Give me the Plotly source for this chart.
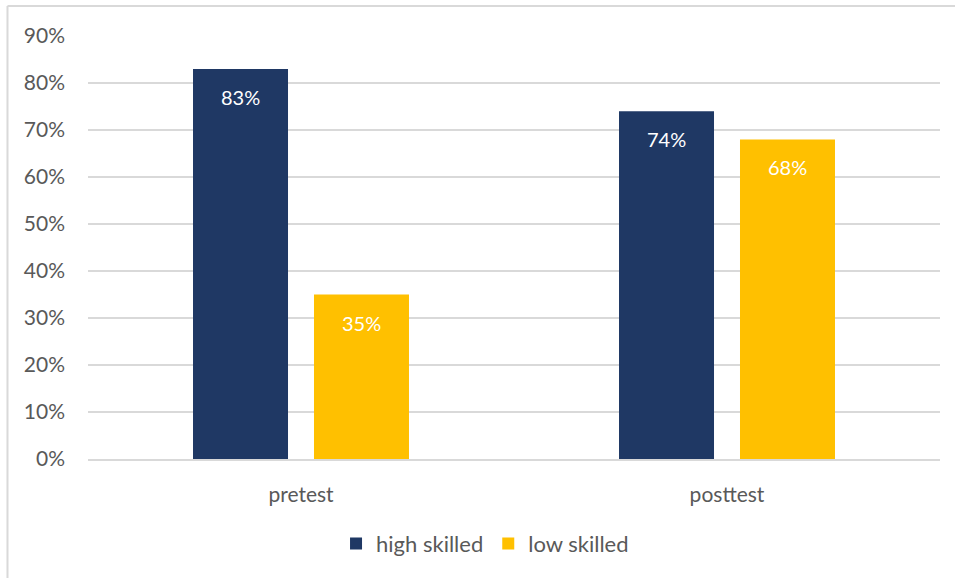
import plotly.graph_objects as go

# Share of correct answers by test phase and skill group
phases = ["pretest", "posttest"]
high_skilled = [0.83, 0.74]
low_skilled = [0.35, 0.68]
series_names = ["high skilled", "low skilled"]
tick_vals = [0, 0.1, 0.2, 0.3, 0.4, 0.5, 0.6, 0.7, 0.8, 0.9]
tick_text = ["0%", "10%", "20%", "30%", "40%", "50%", "60%", "70%", "80%", "90%"]

NAVY = "#1F3864"
GOLD = "#FFC000"
GRID = "#D9D9D9"
TEXT = "#595959"
FONT = "Lato"

bar_width = 0.223
offset = 0.142
pos = list(range(len(phases)))

fig = go.Figure()
for vals, name, color, sign in [
    (high_skilled, series_names[0], NAVY, -1),
    (low_skilled, series_names[1], GOLD, 1),
]:
    xs = [p + sign * offset for p in pos]
    fig.add_trace(go.Bar(
        x=xs, y=vals, name=name, width=bar_width,
        marker=dict(color=color, line=dict(width=0)),
        hoverinfo="skip",
    ))
    for x, v in zip(xs, vals):
        fig.add_annotation(
            x=x, y=v, text=f"{round(v * 100)}%", showarrow=False,
            yshift=-28, font=dict(family=FONT, size=20, color="white"),
        )

# Thin frame on the left and top of the chart area
for x0, y0, x1, y1 in [(-0.0945, -0.2813, -0.0945, 1.0709), (-0.0945, 1.0709, 1.0176, 1.0709)]:
    fig.add_shape(type="line", xref="paper", yref="paper", x0=x0, y0=y0, x1=x1, y1=y1,
                  line=dict(color=GRID, width=2))

fig.update_layout(
    width=956, height=578,
    margin=dict(l=88, r=16, t=36, b=119),
    paper_bgcolor="white", plot_bgcolor="white",
    font=dict(family=FONT, size=21, color=TEXT),
    showlegend=True,
    legend=dict(orientation="h", x=0.466, xanchor="center", y=-0.20, yanchor="middle",
                font=dict(family=FONT, size=22, color=TEXT), itemwidth=30,
                tracegroupgap=0, traceorder="normal"),
    xaxis=dict(range=[-0.5, 1.5], tickvals=pos, ticktext=phases, showgrid=False,
               zeroline=False, showline=True, linecolor=GRID, linewidth=2,
               ticks="", ticklabelstandoff=16, fixedrange=True,
               tickfont=dict(size=21)),
    yaxis=dict(range=[0, 0.9], tickvals=tick_vals, ticktext=tick_text, showgrid=True,
               gridcolor=GRID, gridwidth=2, zeroline=False, showline=False,
               ticks="", ticklabelstandoff=22, fixedrange=True,
               tickfont=dict(size=21)),
)

fig.write_html("out.html")
